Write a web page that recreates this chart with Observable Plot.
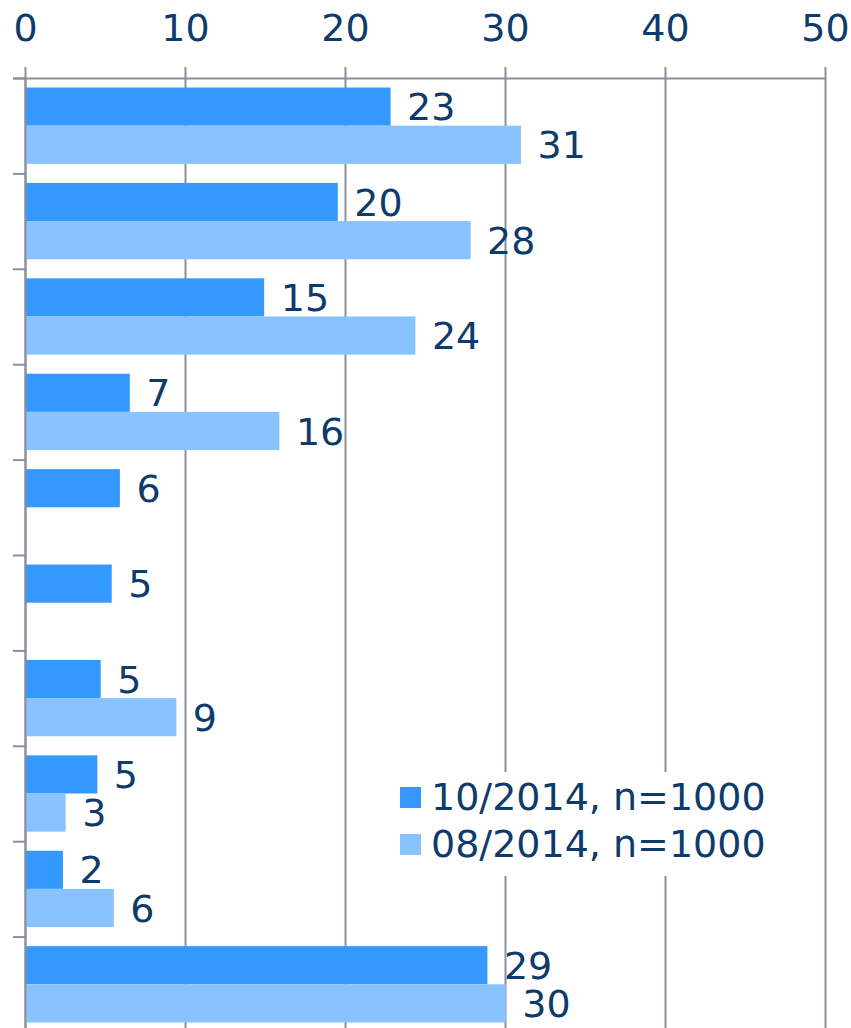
<!DOCTYPE html>
<html>
<head>
<meta charset="utf-8">
<script src="https://cdn.jsdelivr.net/npm/d3@7"></script>
<script src="https://cdn.jsdelivr.net/npm/@observablehq/plot@0.6"></script>
<style>
  html, body { margin: 0; padding: 0; background: #fff; overflow: hidden; }
  #wrap { position: relative; width: 851px; height: 1028px; overflow: hidden; font-family: Verdana, "DejaVu Sans", sans-serif; }
  #legend { position: absolute; left: 392px; top: 772px; width: 382px; height: 104px; background: #fff; color: #0E3B6B; font-size: 38px; line-height: 47px; padding-top: 2px; box-sizing: border-box; }
  #legend .item { display: flex; align-items: center; white-space: nowrap; }
  #legend .sw { width: 21px; height: 21px; margin-left: 8px; margin-right: 10px; flex: none; }
</style>
</head>
<body>
<div id="wrap"><div id="legend"></div></div>
<script>
// Data
const categories = ["1", "2", "3", "4", "5", "6", "7", "8", "9", "10"];
const series = ["10/2014, n=1000", "08/2014, n=1000"];
const oct2014 = [22.85, 19.55, 14.95, 6.55, 5.93, 5.42, 4.73, 4.52, 2.37, 28.9];
const aug2014 = [31.0, 27.85, 24.4, 15.9, null, null, 9.46, 2.54, 5.55, 30.05];
const oct2014Labels = ["23", "20", "15", "7", "6", "5", "5", "5", "2", "29"];
const aug2014Labels = ["31", "28", "24", "16", null, null, "9", "3", "6", "30"];
const xTicks = [0, 10, 20, 30, 40, 50];
const colors = ["#3399FF", "#88C2FF"];

const textColor = "#0E3B6B";
const gridColor = "#8B8F9E";

// Build table: each category occupies [i, i+1] on y; two bars stacked inside
const rows = [];
categories.forEach((c, i) => {
  [oct2014, aug2014].forEach((vals, s) => {
    const v = vals[i];
    if (v == null) return;
    const lab = (s === 0 ? oct2014Labels : aug2014Labels)[i];
    rows.push({
      category: c,
      series: series[s],
      zero: 0,
      value: v,
      label: lab,
      y1: i + 0.1 + s * 0.4,
      y2: i + 0.5 + s * 0.4,
      ym: i + 0.3 + s * 0.4
    });
  });
});

const chart = Plot.plot({
  width: 851,
  height: 1032,
  marginTop: 78,
  marginBottom: 0,
  marginLeft: 25,
  marginRight: 26,
  style: { fontFamily: 'Verdana, "DejaVu Sans", sans-serif', background: "transparent", overflow: "visible" },
  x: { domain: [0, 50] },
  y: { domain: [0, categories.length], reverse: true },
  color: { domain: series, range: colors },
  marks: [
    Plot.gridX(xTicks, { stroke: gridColor, strokeOpacity: 1, strokeWidth: 2 }),
    Plot.axisX(xTicks, {
      anchor: "top",
      tickSize: 12,
      tickPadding: 26,
      stroke: gridColor,
      strokeWidth: 2,
      fill: textColor,
      fontSize: 38,
      label: null,
      tickFormat: d => String(d)
    }),
    Plot.axisY(d3.range(0, categories.length + 1), {
      anchor: "left",
      tickSize: 12,
      stroke: gridColor,
      strokeWidth: 2,
      tickFormat: () => "",
      label: null
    }),
    Plot.ruleY([0], { stroke: gridColor, strokeWidth: 2, insetLeft: -12 }),
    Plot.rect(rows, { x1: "zero", x2: "value", y1: "y1", y2: "y2", fill: "series", insetLeft: 1 }),
    Plot.ruleX([0], { stroke: gridColor, strokeWidth: 2 }),
    Plot.text(rows, {
      x: "value",
      y: "ym",
      text: "label",
      textAnchor: "start",
      dx: 16,
      dy: 1,
      fill: textColor,
      fontSize: 38
    })
  ]
});

const wrap = document.getElementById("wrap");
wrap.insertBefore(chart, wrap.firstChild);

const legend = document.getElementById("legend");
series.forEach((s, i) => {
  const item = document.createElement("div");
  item.className = "item";
  const sw = document.createElement("span");
  sw.className = "sw";
  sw.style.background = colors[i];
  const t = document.createElement("span");
  t.textContent = s;
  item.appendChild(sw);
  item.appendChild(t);
  legend.appendChild(item);
});
</script>
</body>
</html>
